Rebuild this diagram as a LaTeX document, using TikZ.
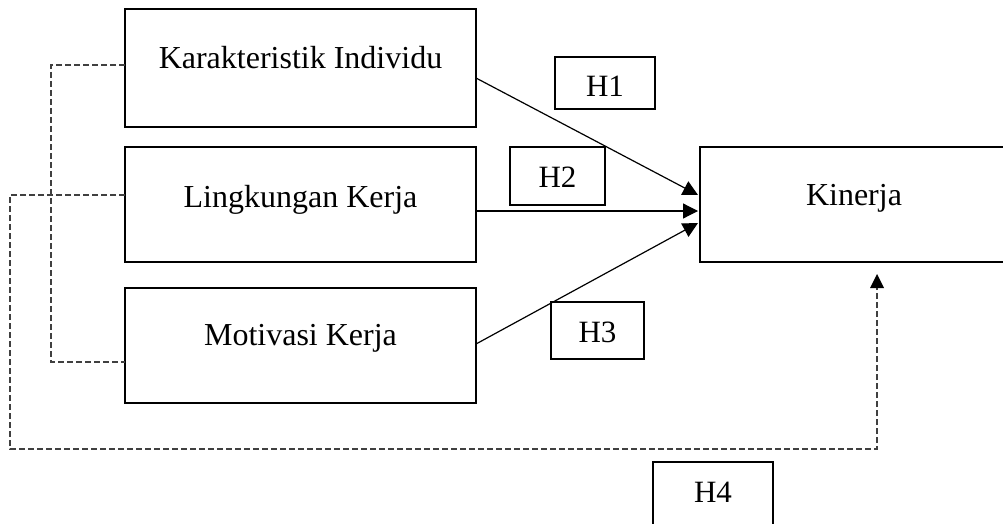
\documentclass[tikz,border=0pt]{standalone}
\usepackage{fontspec}
\setmainfont{Liberation Serif}
\usetikzlibrary{arrows.meta}
\begin{document}
\begin{tikzpicture}[x=1pt,y=-1pt,
  box/.style={draw,line width=2.4pt,inner sep=0pt,outer sep=0pt},
  lbl/.style={anchor=base,inner sep=0pt,font=\fontsize{32}{38}\selectfont},
  hlbl/.style={anchor=base,inner sep=0pt,font=\fontsize{31}{36}\selectfont},
  conn/.style={line width=1.2pt,-{Triangle[length=15pt,width=15pt]}},
  dashln/.style={line width=1.1pt,draw=black!75,dash pattern=on 6pt off 3pt}]
\useasboundingbox (0,0) rectangle (1003,524);
% boxes
\node[box,minimum width=351pt,minimum height=118pt] (kar) at (300.5,68) {};
\node[box,minimum width=351pt,minimum height=115pt] (lin) at (300.5,204.5) {};
\node[box,minimum width=351pt,minimum height=115pt] (mot) at (300.5,345.5) {};
\node[box,minimum width=316pt,minimum height=115pt] (kin) at (858,204.5) {};
\node[box,minimum width=100pt,minimum height=52pt] (h1) at (605,83) {};
\node[box,minimum width=95pt,minimum height=58pt] (h2) at (557.5,176) {};
\node[box,minimum width=93pt,minimum height=57pt] (h3) at (597.5,330.5) {};
\node[box,minimum width=120pt,minimum height=66pt] (h4) at (713,495) {};
% texts
\node[lbl] (tkar) at (300.5,69) {Karakteristik Individu};
\node[lbl] (tlin) at (300.5,207) {Lingkungan Kerja};
\node[lbl] (tmot) at (300.5,345) {Motivasi Kerja};
\node[lbl] (tkin) at (854,205) {Kinerja};
\node[hlbl] (th1) at (605,97) {H1};
\node[hlbl] (th2) at (557.5,187) {H2};
\node[hlbl] (th3) at (597.5,342) {H3};
\node[hlbl] (th4) at (713,502) {H4};
% solid arrows
\draw[conn] ([yshift=-10pt]kar.east) -- ([xshift=-2pt,yshift=9.5pt]kin.west);
\draw[conn] ([yshift=-6.5pt]lin.east) -- ([xshift=-2pt,yshift=-6.5pt]kin.west);
\draw[conn] ([yshift=1.5pt]mot.east) -- ([xshift=-2pt,yshift=-18.5pt]kin.west);
% dashed connectors
\coordinate (a1) at (51,65);
\coordinate (a2) at (51,362);
\draw[dashln] ([yshift=3pt]kar.west) -- (a1) -- (a2) -- ([yshift=-16.5pt]mot.west);
\coordinate (b1) at (10,195);
\coordinate (b2) at (10,449);
\coordinate (b3) at (877,449);
\coordinate (btip) at (877,274);
\draw[dashln,-{Triangle[length=14pt,width=14pt,fill=black,line width=0pt]}] ([yshift=9.5pt]lin.west) -- (b1) -- (b2) -- (b3) -- (btip);
\end{tikzpicture}
\end{document}
